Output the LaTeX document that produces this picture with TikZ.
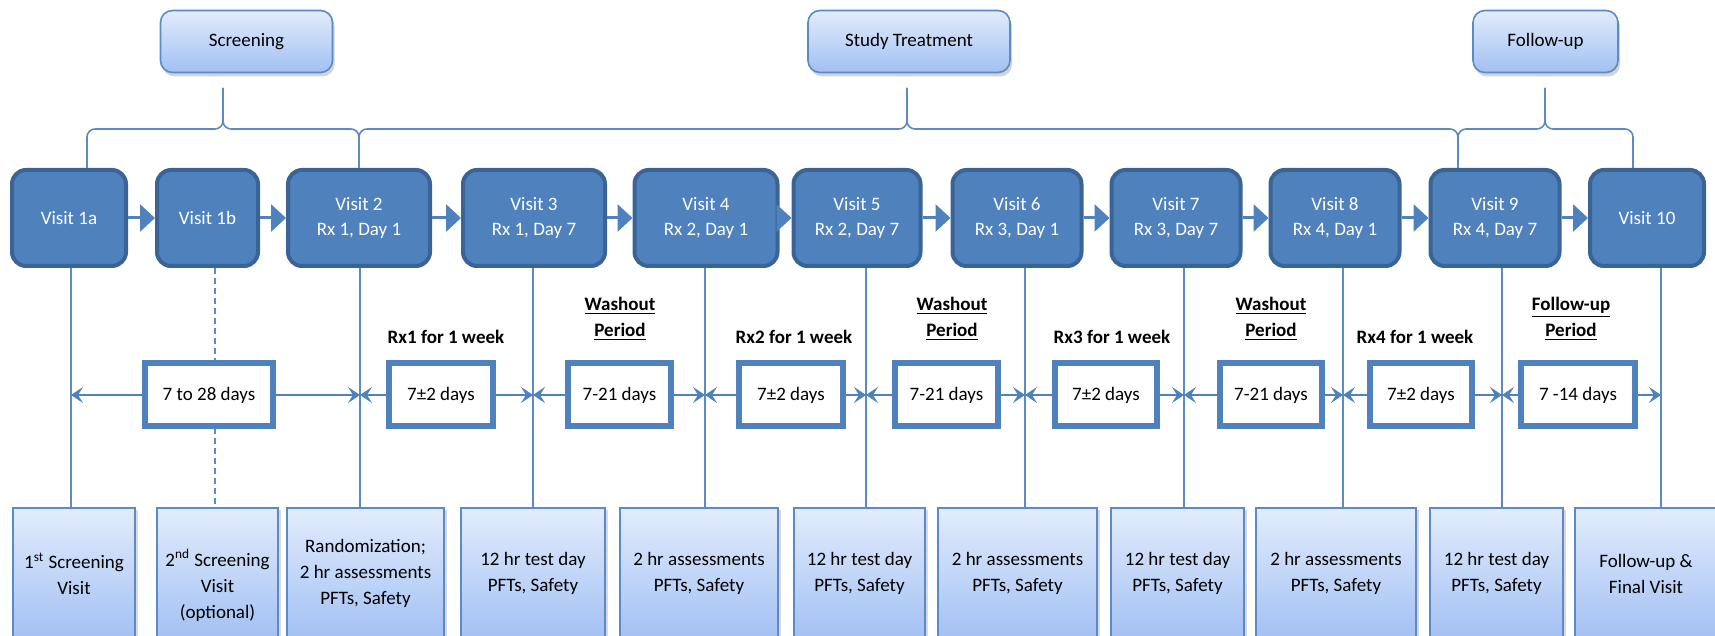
\documentclass[tikz,border=0pt]{standalone}
\usepackage{fontspec}
\setmainfont{Carlito}
\usetikzlibrary{arrows.meta,calc,shadows}
\definecolor{visitblue}{HTML}{4F81BD}
\definecolor{visitdark}{HTML}{3A6495}
\definecolor{lineblue}{HTML}{5B8AC6}
\definecolor{boxtop}{HTML}{E2ECFC}
\definecolor{boxbottom}{HTML}{A2C0F3}
\pgfdeclarelayer{background}
\pgfsetlayers{background,main}
\tikzstyle{visit}=[rectangle,rounded corners=7pt,fill=visitblue,draw=visitdark,line width=2pt,text=white,minimum height=48pt,inner sep=2pt,align=center,font=\fontsize{9.5pt}{12.5pt}\selectfont]
\tikzstyle{period}=[rectangle,fill=white,draw=visitblue,line width=3pt,minimum height=31.5pt,inner sep=2pt,font=\fontsize{9.5pt}{12.5pt}\selectfont]
\tikzstyle{phase}=[rectangle,rounded corners=6pt,draw=lineblue,line width=0.8pt,top color=boxtop,bottom color=boxbottom,minimum height=31pt,drop shadow={shadow xshift=1pt,shadow yshift=-2pt,opacity=0.35},font=\fontsize{9.5pt}{12.5pt}\selectfont]
\tikzstyle{note}=[rectangle,draw=lineblue,line width=0.8pt,top color=boxtop,bottom color=boxbottom,minimum height=66pt,anchor=north,align=center,drop shadow={shadow xshift=1.5pt,shadow yshift=-1pt,opacity=0.3},font=\fontsize{9.5pt}{13pt}\selectfont]
\tikzstyle{span label}=[align=center,font=\fontsize{9.5pt}{13pt}\selectfont\bfseries]
\tikzstyle{visit edge}=[draw,visitblue,line width=1.5pt,-{Triangle[length=7.5pt,width=13.5pt]}]
\tikzstyle{span edge}=[draw,visitblue,line width=1.2pt,-{Stealth[length=6pt,width=8pt,inset=2.5pt]}]
\tikzstyle{tick}=[draw,lineblue,line width=0.8pt]
\tikzstyle{bracket}=[draw,lineblue,line width=0.8pt,rounded corners=4pt]

\begin{document}
\begin{tikzpicture}[x=0.5pt,y=-0.5pt]
    \useasboundingbox (0,0) rectangle (1715,636);
    \clip (0,0) rectangle (1715,636);
    % visits along the top row
    \foreach \name/\x/\w/\txt in {v1a/69/57/{Visit 1a}, v1b/207.5/50.5/{Visit 1b},
                                  v2/359/71/{Visit 2\\Rx 1, Day 1}, v3/534/71/{Visit 3\\Rx 1, Day 7},
                                  v4/706/71.5/{Visit 4\\Rx 2, Day 1}, v5/857/63.5/{Visit 5\\Rx 2, Day 7},
                                  v6/1017/64.5/{Visit 6\\Rx 3, Day 1}, v7/1176/64.5/{Visit 7\\Rx 3, Day 7},
                                  v8/1335/64.5/{Visit 8\\Rx 4, Day 1}, v9/1495/64.5/{Visit 9\\Rx 4, Day 7},
                                  v10/1647/57/{Visit 10}}
        \node[visit,minimum width=\w pt] (\name) at (\x,218) {\txt};
    \foreach \source/\dest in {v1a/v1b, v1b/v2, v2/v3, v3/v4, v4/v5, v5/v6, v6/v7, v7/v8, v8/v9, v9/v10}
        \path[visit edge] (\source) -- (\dest);

    % phases
    \node[phase,minimum width=86pt] (scr) at (246.5,41.5) {Screening};
    \node[phase,minimum width=101pt] (st) at (909,41.5) {Study Treatment};
    \node[phase,minimum width=72.5pt] (fu) at (1545.5,41.5) {Follow-up};
    \coordinate (scrtop) at (223,88);  \coordinate (scrmid) at (223,129);
    \coordinate (sttop) at (907,88);   \coordinate (stmid) at (907,129);
    \coordinate (futop) at (1545,88);  \coordinate (fumid) at (1545,129);
    \path[bracket] ($(v1a.north)+(18,0)$) |- (scrmid) -- (scrtop);
    \path[bracket] (v2.north) |- (scrmid) -- (scrtop);
    \path[bracket] (v2.north) |- (stmid) -- (sttop);
    \path[bracket] ($(v9.north)+(-37,0)$) |- (stmid) -- (sttop);
    \path[bracket] ($(v9.north)+(-37,0)$) |- (fumid) -- (futop);
    \path[bracket] ($(v10.north)+(-14,0)$) |- (fumid) -- (futop);

    % what happens at each visit
    \foreach \name/\x/\w/\txt in {b1/74/61/{1\textsuperscript{st} Screening\\Visit},
                                  b2/217.5/60.5/{\rule{0pt}{20pt}2\textsuperscript{nd} Screening\\Visit\\(optional)},
                                  b3/365.5/78.5/{Randomization;\\2 hr assessments\\PFTs, Safety},
                                  b4/533/72/{12 hr test day\\PFTs, Safety},
                                  b5/699/79/{2 hr assessments\\PFTs, Safety},
                                  b6/859.5/65.5/{12 hr test day\\PFTs, Safety},
                                  b7/1017.5/79.5/{2 hr assessments\\PFTs, Safety},
                                  b8/1177.5/66.5/{12 hr test day\\PFTs, Safety},
                                  b9/1336/80/{2 hr assessments\\PFTs, Safety},
                                  b10/1496.5/66.5/{12 hr test day\\PFTs, Safety},
                                  b11/1646/71/{Follow-up \&\\Final Visit}}
        \node[note,minimum width=\w pt] (\name) at (\x,507) {\txt};

    % time line marks
    \foreach \name/\x in {t1/71, t2/215, t3/360, t4/533, t5/705, t6/866,
                          t7/1025, t8/1184, t9/1343, t10/1502, t11/1661}
        \coordinate (\name) at (\x,395);

    % durations between visits
    \foreach \name/\x/\w/\txt in {d1/209/64/{7 to 28 days}, d2/441/52/{7±2 days},
                                  d3/619.5/51.5/{7-21 days}, d4/791/52/{7±2 days},
                                  d5/946.5/51.5/{7-21 days}, d6/1106/51/{7±2 days},
                                  d7/1271/51/{7-21 days}, d8/1421/51/{7±2 days},
                                  d9/1578/57/{7 -14 days}}
        \node[period,minimum width=\w pt] (\name) at (\x,395) {\txt};
    \foreach \d/\l/\r in {d1/t1/t3, d2/t3/t4, d3/t4/t5, d4/t5/t6, d5/t6/t7,
                          d6/t7/t8, d7/t8/t9, d8/t9/t10, d9/t10/t11} {
        \path[span edge] (\d.west) -- (\l);
        \path[span edge] (\d.east) -- (\r);
    }
    \foreach \name/\x/\y/\txt in {rx1/446/337/{Rx1 for 1 week},
                                  wo1/620/319/{\underline{Washout}\\\underline{Period}},
                                  rx2/794/337/{Rx2 for 1 week},
                                  wo2/952/319/{\underline{Washout}\\\underline{Period}},
                                  rx3/1112/337/{Rx3 for 1 week},
                                  wo3/1271/319/{\underline{Washout}\\\underline{Period}},
                                  rx4/1415/337/{Rx4 for 1 week},
                                  fup/1571/319/{\underline{Follow-up}\\\underline{Period}}}
        \node[span label] (\name) at (\x,\y) {\txt};

    \begin{pgfonlayer}{background}
        \foreach \v/\t/\b in {v1a/t1/b1, v2/t3/b3, v3/t4/b4, v4/t5/b5, v5/t6/b6,
                              v6/t7/b7, v7/t8/b8, v8/t9/b9, v9/t10/b10, v10/t11/b11}
            \path[tick] (\v.south -| \t) -- (\b.north -| \t);
        \path[tick,dash pattern=on 3pt off 2pt] (v1b.south -| t2) -- (b2.north -| t2);
    \end{pgfonlayer}
\end{tikzpicture}
\end{document}
